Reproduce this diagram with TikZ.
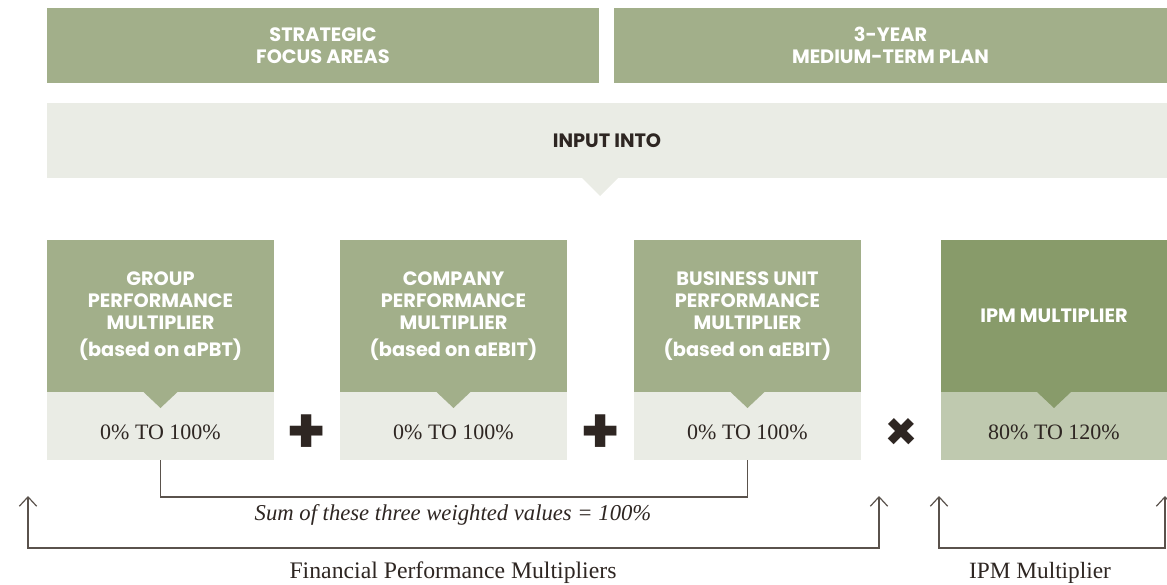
\documentclass[tikz,border=0pt]{standalone}
\usepackage{fontspec}
\setmainfont{Liberation Serif}
\newfontfamily\headfont{Poppins}
\usepackage{xcolor}
\usetikzlibrary{arrows.meta, positioning}
\definecolor{sage}{HTML}{A2AF8A}
\definecolor{sagedark}{HTML}{889B6A}
\definecolor{sagelight}{HTML}{BFC9AF}
\definecolor{mist}{HTML}{EAECE5}
\definecolor{ink}{HTML}{2E2622}
\definecolor{rule}{HTML}{5A524C}
\tikzstyle{headbox} = [
    rectangle,
    fill=sage,
    minimum width=414pt,
    minimum height=56.25pt,
    inner sep=0pt,
    outer sep=0pt,
    text=white,
    align=center,
    font=\headfont\bfseries\fontsize{14.5}{16.5}\selectfont
]
\tikzstyle{multbox} = [
    rectangle,
    fill=sage,
    minimum width=170.25pt,
    minimum height=114pt,
    inner sep=0pt,
    outer sep=0pt,
    text=white,
    align=center,
    font=\headfont\bfseries\fontsize{14.5}{16.5}\selectfont
]
\tikzstyle{rangebox} = [
    rectangle,
    fill=mist,
    minimum width=170.25pt,
    minimum height=51pt,
    inner sep=0pt,
    outer sep=0pt
]
\tikzstyle{rangetext} = [
    text=ink,
    inner sep=0pt,
    font=\fontsize{16.5}{19}\selectfont
]
\tikzstyle{operator} = [
    text=ink,
    inner sep=0pt,
    font=\headfont\bfseries\fontsize{48}{48}\selectfont
]
\tikzstyle{caption} = [
    text=ink,
    inner sep=0pt,
    font=\fontsize{17.8}{20}\selectfont
]
\tikzstyle{bracket} = [
    draw=rule,
    line width=0.9pt
]
\tikzstyle{barbs} = [
    draw=rule,
    line width=0.9pt,
    {Straight Barb[length=7pt,width=13pt]}-{Straight Barb[length=7pt,width=13pt]}
]

\begin{document}
\begin{tikzpicture}[x=0.75pt, y=-0.75pt]

\useasboundingbox (0,0) rectangle (1167,585);

% top row
\node (focus) [headbox] at (323,45.5)
{STRATEGIC\\FOCUS AREAS};

\node (plan) [headbox, minimum width=414.75pt, right=11.25pt of focus]
{3-YEAR\\MEDIUM-TERM PLAN};

\node (input) [rectangle, fill=mist, minimum width=840pt, minimum height=56.25pt,
    inner sep=0pt, outer sep=0pt, text=ink,
    font=\headfont\bfseries\fontsize{14.5}{16.5}\selectfont] at (607,140.5)
{INPUT INTO};

\fill [mist] (582,178) -- (618,178) -- (600,196) -- cycle;

% multipliers
\node (group) [multbox] at (160.5,316)
{GROUP\\PERFORMANCE\\MULTIPLIER\\[4pt](based on aPBT)};

\node (company) [multbox, right=49.5pt of group]
{COMPANY\\PERFORMANCE\\MULTIPLIER\\[4pt](based on aEBIT)};

\node (unit) [multbox, right=50.25pt of company]
{BUSINESS UNIT\\PERFORMANCE\\MULTIPLIER\\[4pt](based on aEBIT)};

\node (ipm) [multbox, fill=sagedark, minimum width=169.5pt, right=60pt of unit]
{IPM MULTIPLIER};

\node (groupr) [rangebox, below=0pt of group] {};
\node (companyr) [rangebox, below=0pt of company] {};
\node (unitr) [rangebox, below=0pt of unit] {};
\node (ipmr) [rangebox, fill=sagelight, minimum width=169.5pt, below=0pt of ipm] {};

\foreach \m/\c in {group/sage, company/sage, unit/sage, ipm/sagedark}
    \fill [\c] (\m.south) ++(-17,0) -- ++(34,0) -- ++(-17,16) -- cycle;

\node (groupv) [rangetext] at ([yshift=-4.5pt]groupr.center) {0\% TO 100\%};
\node (companyv) [rangetext] at ([yshift=-4.5pt]companyr.center) {0\% TO 100\%};
\node (unitv) [rangetext] at ([yshift=-4.5pt]unitr.center) {0\% TO 100\%};
\node (ipmv) [rangetext] at ([yshift=-4.5pt]ipmr.center) {80\% TO 120\%};

\node (plusa) [operator] at (306.5,434.5) {+};
\node (plusb) [operator] at (600.5,434.5) {+};
\node (times) [operator, font=\headfont\bfseries\fontsize{40}{40}\selectfont] at (901,434) {×};

% brackets
\draw [bracket] (groupr.south) -- ++(0,37) -| (unitr.south);

\node (sum) [caption, font=\itshape\fontsize{17}{20}\selectfont] at (453,515)
{Sum of these three weighted values = 100\%};

\coordinate (finl) at (28,496);
\coordinate (finr) at (879,496);
\coordinate (ipml) at (939,496);
\coordinate (ipmrr) at (1165,496);

\draw [barbs] (finl) -- ++(0,52) -| (finr);
\draw [barbs] (ipml) -- ++(0,52) -| (ipmrr);

\node (finlbl) [caption] at (453,573) {Financial Performance Multipliers};
\node (ipmlbl) [caption, font=\fontsize{17.5}{20}\selectfont] at (1040,573) {IPM Multiplier};

\end{tikzpicture}
\end{document}
